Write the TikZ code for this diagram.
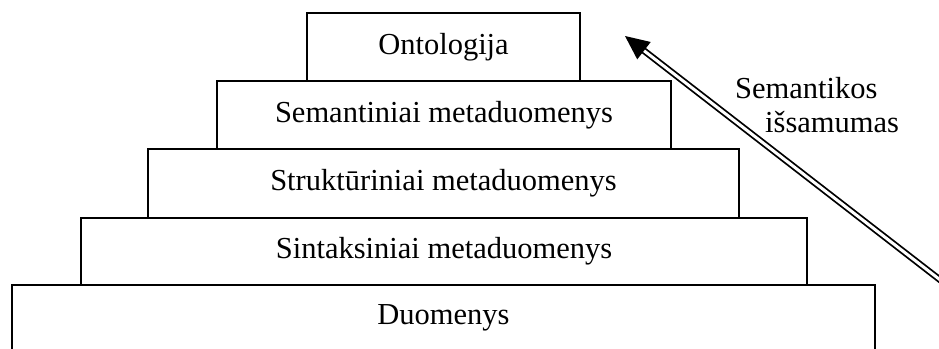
\documentclass[tikz,border=0pt]{standalone}
\usepackage{fontspec}
\setmainfont{Liberation Serif}
\usetikzlibrary{calc}
\begin{document}
\begin{tikzpicture}[x=1pt,y=-1pt,
  layer/.style={draw, line width=1.6pt, inner sep=0pt, font=\fontsize{30.5}{36}\selectfont},
  lbl/.style={inner sep=0pt, anchor=base west, font=\fontsize{30.5}{36}\selectfont},
  shaft/.style={draw, line width=1.8pt, double=white, double distance=3pt}]
\useasboundingbox (0,0) rectangle (939,348);

% pyramid of layers
\node[layer, minimum width=863pt, minimum height=66pt] (duo) at (443.5,318)   {Duomenys};
\node[layer, minimum width=726pt, minimum height=67pt] (sin) at (444,251.5)   {Sintaksiniai metaduomenys};
\node[layer, minimum width=591pt, minimum height=69pt] (str) at (443.5,183.5) {Struktūriniai metaduomenys};
\node[layer, minimum width=454pt, minimum height=68pt] (sem) at (444,115)     {Semantiniai metaduomenys};
\node[layer, minimum width=273pt, minimum height=68pt] (ont) at (443.5,47)    {Ontologija};

% arrow label
\node[lbl] (lbla) at (735,98)  {Semantikos};
\node[lbl] (lblb) at (765,132) {išsamumas};

% double-lined arrow
\coordinate (tail) at (970,303);
\coordinate (tip)  at (625,36);
\coordinate (hb)   at ($(tip)!24pt!(tail)$);
\draw[shaft] (tail) -- ($(tip)!21pt!(tail)$);
\fill (tip) -- ($(hb)!11pt!90:(tail)$) -- ($(hb)!11pt!-90:(tail)$) -- cycle;
\end{tikzpicture}
\end{document}
